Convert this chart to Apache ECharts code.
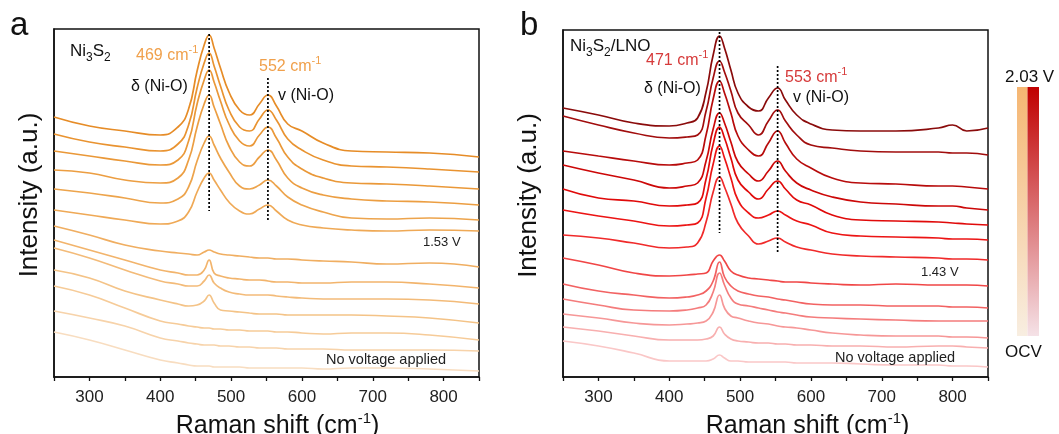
<!DOCTYPE html>
<html><head><meta charset="utf-8">
<script src="https://cdn.jsdelivr.net/npm/echarts@6/dist/echarts.min.js"></script>
<style>html,body{margin:0;padding:0;background:#fff}#c{width:1059px;height:434px}</style>
</head><body><div id="c"></div>
<script>
// ---------- data ----------
// Raman shift grid (cm-1) for panel a (Ni3S2) and panel b (Ni3S2/LNO)
const xA = [250, 300, 350, 400, 425, 440, 452, 462, 469, 476, 485, 497, 512, 526, 540, 552, 564, 580, 600, 630, 670, 720, 780, 850];
const xB = [250, 300, 350, 400, 425, 440, 452, 462, 471, 478, 487, 497, 512, 526, 540, 553, 564, 580, 600, 630, 670, 720, 780, 800, 820, 850];

// panel a spectra, top (highest potential) to bottom (OCV), stacked intensity (a.u.)
const a01 = [260, 251, 246, 242, 250, 268, 306, 332, 342, 329, 309, 285, 267, 262, 273, 282, 271, 253, 246, 234, 226, 225, 224, 220];
const a02 = [243, 235, 230, 226, 233, 252, 289, 314, 324, 311, 291, 267, 250, 246, 258, 267, 257, 238, 227, 217, 211, 210, 208, 205];
const a03 = [226, 221, 216, 212, 217, 236, 273, 297, 307, 295, 276, 253, 236, 231, 242, 250, 239, 220, 208, 199, 194, 193, 191, 188];
const a04 = [207, 204, 197, 194, 199, 217, 250, 273, 282, 270, 253, 231, 215, 211, 220, 227, 217, 199, 189, 182, 178, 176, 175, 172];
const a05 = [188, 184, 179, 174, 178, 190, 216, 234, 241, 232, 219, 205, 191, 188, 192, 197, 191, 180, 172, 165, 159, 158, 159, 157];
const a06 = [167, 162, 157, 153, 156, 165, 185, 199, 204, 197, 187, 175, 166, 163, 168, 172, 166, 157, 152, 149, 147, 146, 147, 146];
const a07 = [151, 142, 132, 126, 124, 123, 122, 125, 127, 125, 123, 122, 121, 120, 119, 119, 118, 118, 117, 116, 115, 113, 114, 110];
const a08 = [137, 127, 117, 107, 104, 102, 102, 107, 117, 104, 101, 99, 98, 97, 97, 96, 95, 95, 94, 94, 95, 95, 93, 89];
const a09 = [129, 119, 107, 96, 93, 91, 91, 96, 102, 94, 89, 85, 83, 82, 82, 82, 81, 80, 79, 78, 78, 78, 77, 73];
const a10 = [107, 99, 86, 77, 73, 71, 72, 76, 82, 74, 67, 66, 65, 64, 63, 63, 63, 62, 62, 62, 62, 61, 59, 54];
const a11 = [91, 82, 69, 56, 53, 51, 50, 49, 49, 48, 48, 47, 47, 46, 46, 46, 45, 45, 44, 43, 44, 44, 42, 37];
const a12 = [66, 59, 51, 39, 36, 34, 33, 32, 32, 32, 31, 31, 30, 30, 29, 29, 29, 28, 28, 28, 27, 27, 27, 26];
const a13 = [45, 37, 27, 17, 14, 12, 11, 11, 11, 10, 10, 10, 10, 9, 9, 9, 9, 9, 9, 8, 9, 9, 8, 6];

// panel b spectra, top to bottom
const b01 = [269, 262, 254, 251, 254, 259, 285, 322, 341, 329, 307, 284, 270, 266, 279, 289, 277, 262, 253, 247, 246, 246, 249, 252, 246, 249];
const b02 = [261, 252, 244, 239, 240, 242, 266, 299, 316, 305, 286, 264, 252, 242, 256, 267, 256, 242, 232, 229, 226, 225, 225, 224, 224, 222];
const b03 = [226, 221, 216, 212, 214, 217, 242, 278, 296, 284, 264, 241, 227, 221, 234, 246, 234, 218, 209, 199, 194, 193, 191, 191, 190, 188];
const b04 = [212, 204, 197, 189, 191, 194, 216, 248, 264, 254, 235, 215, 203, 196, 206, 216, 206, 194, 187, 180, 175, 173, 171, 171, 169, 167];
const b05 = [188, 179, 176, 171, 172, 174, 198, 233, 250, 239, 219, 197, 185, 178, 188, 196, 188, 177, 172, 162, 157, 156, 155, 154, 153, 152];
const b06 = [167, 161, 156, 151, 152, 154, 179, 213, 231, 219, 199, 177, 164, 159, 162, 166, 162, 156, 152, 144, 141, 140, 139, 138, 138, 137];
const b07 = [142, 139, 134, 129, 130, 134, 155, 185, 200, 190, 173, 154, 141, 133, 136, 139, 135, 130, 127, 123, 121, 120, 119, 118, 118, 117];
const b08 = [119, 112, 104, 101, 102, 103, 104, 116, 122, 116, 106, 102, 99, 98, 97, 96, 95, 95, 94, 93, 92, 93, 92, 92, 92, 91];
const b09 = [93, 86, 82, 79, 80, 82, 86, 96, 115, 100, 91, 86, 83, 81, 80, 78, 77, 75, 73, 72, 72, 71, 71, 70, 70, 69];
const b10 = [78, 72, 67, 66, 67, 69, 72, 85, 104, 92, 79, 73, 71, 69, 67, 65, 64, 62, 60, 59, 58, 57, 56, 56, 56, 56];
const b11 = [63, 59, 54, 52, 53, 54, 56, 65, 82, 69, 61, 59, 56, 54, 53, 51, 50, 49, 47, 44, 42, 41, 41, 40, 40, 39];
const b12 = [50, 46, 41, 37, 37, 37, 38, 41, 50, 43, 38, 36, 35, 34, 34, 33, 33, 32, 32, 31, 31, 30, 31, 31, 30, 29];
const b13 = [36, 31, 24, 16, 16, 16, 16, 18, 22, 19, 16, 16, 15, 15, 15, 15, 15, 14, 14, 14, 13, 12, 12, 11, 11, 10];

// peak marker lines: [position, top, bottom]
const peakLinesA = [[469, 343, 166], [552, 299, 155]];
const peakLinesB = [[471, 345, 144], [553, 311, 125]];

const tickValues = [300, 400, 500, 600, 700, 800];

// ---------- styling ----------
const FONT = 'Liberation Sans, Arial, sans-serif';
const colorsA = ['#E68C27', '#E99330', '#EA9838', '#EC9E42', '#EDA44C', '#EFA956', '#F0AE61', '#F2B46C', '#F3BB79', '#F4C387', '#F6CB98', '#F7D3AA', '#F8DDC0'];
const colorsB = ['#8A0B0B', '#A10D0D', '#B70B0B', '#CC0808', '#E00A0A', '#EC1414', '#F02A2A', '#F04646', '#F26262', '#F47C7C', '#F69797', '#F8AFAF', '#FAC7C7'];
const curvesA = [a01, a02, a03, a04, a05, a06, a07, a08, a09, a10, a11, a12, a13];
const curvesB = [b01, b02, b03, b04, b05, b06, b07, b08, b09, b10, b11, b12, b13];

const chart = echarts.init(document.getElementById('c'), null, {renderer: 'canvas'});

function xAxisDef(idx, padLeft) {
  return {
    gridIndex: idx, type: 'value', min: 250, max: 850, interval: 50,
    axisLine: {lineStyle: {color: '#111', width: 1.5}},
    axisTick: {length: 4, lineStyle: {color: '#111', width: 1.3}},
    axisLabel: {formatter: v => tickValues.indexOf(v) >= 0 ? String(v) : '', fontSize: 17, color: '#222', margin: 12, fontFamily: FONT},
    splitLine: {show: false},
    name: 'Raman shift (cm{sup|-1})', nameLocation: 'middle', nameGap: 23,
    nameTextStyle: {fontSize: 25, lineHeight: 30, color: '#111', fontFamily: FONT, padding: [0, 0, 0, padLeft],
      rich: {sup: {fontSize: 15, lineHeight: 15, fontFamily: FONT, color: '#111', verticalAlign: 'top'}}}
  };
}
function yAxisDef(idx, max, gap) {
  return {
    gridIndex: idx, type: 'value', min: 0, max: max,
    axisLine: {show: true, lineStyle: {color: '#111', width: 1.5}},
    axisTick: {show: false}, axisLabel: {show: false}, splitLine: {show: false},
    name: 'Intensity (a.u.)', nameLocation: 'middle', nameGap: gap, nameRotate: 90,
    nameTextStyle: {fontSize: 26, color: '#111', fontFamily: FONT, padding: [0, 0, 0, 16]}
  };
}

const series = [];
curvesA.forEach((c, k) => series.push({
  type: 'line', xAxisIndex: 0, yAxisIndex: 0, data: xA.map((x, i) => [x, c[i]]),
  smooth: 0.5, showSymbol: false, silent: true,
  lineStyle: {width: 1.7, color: colorsA[k]}, z: 2
}));
curvesB.forEach((c, k) => series.push({
  type: 'line', xAxisIndex: 1, yAxisIndex: 1, data: xB.map((x, i) => [x, c[i]]),
  smooth: 0.5, showSymbol: false, silent: true,
  lineStyle: {width: 1.7, color: colorsB[k]}, z: 2
}));
peakLinesA.forEach(p => series.push({
  type: 'line', xAxisIndex: 0, yAxisIndex: 0, data: [[p[0], p[1]], [p[0], p[2]]],
  showSymbol: false, silent: true, lineStyle: {type: [2, 2], color: '#000', width: 1.7}, z: 4
}));
peakLinesB.forEach(p => series.push({
  type: 'line', xAxisIndex: 1, yAxisIndex: 1, data: [[p[0], p[1]], [p[0], p[2]]],
  showSymbol: false, silent: true, lineStyle: {type: [2, 2], color: '#000', width: 1.7}, z: 4
}));

const sub = {fontSize: 12, lineHeight: 12, fontFamily: FONT, fill: '#111', verticalAlign: 'bottom'};
const sup = c => ({fontSize: 11, lineHeight: 11, fontFamily: FONT, fill: c, verticalAlign: 'top'});
function txt(x, y, text, size, color, rich) {
  const st = {text: text, x: x, y: y, fill: color, font: size + 'px ' + FONT, fontSize: size, fontFamily: FONT, textVerticalAlign: 'middle', textAlign: 'left'};
  if (rich) { st.rich = rich; st.lineHeight = size + 8; }
  return {type: 'text', style: st, z: 10};
}
const orangeT = '#F0A04B', redT = '#D63A3A';

const graphic = [
  {type: 'text', style: {text: 'a', x: 10, y: 26, fill: '#111', font: '33px ' + FONT, textVerticalAlign: 'middle'}},
  {type: 'text', style: {text: 'b', x: 520, y: 26, fill: '#111', font: '33px ' + FONT, textVerticalAlign: 'middle'}},
  txt(70, 51, 'Ni{s|3}S{s|2}', 17, '#111', {s: sub}),
  txt(136, 56, '469 cm{p|-1}', 16, orangeT, {p: sup(orangeT)}),
  txt(131, 87, 'δ (Ni-O)', 16, '#111'),
  txt(259, 67, '552 cm{p|-1}', 16, orangeT, {p: sup(orangeT)}),
  txt(278, 96, 'v (Ni-O)', 16, '#111'),
  txt(423, 242, '1.53 V', 13, '#222'),
  txt(326, 360, 'No voltage applied', 14.5, '#222'),
  txt(570, 46, 'Ni{s|3}S{s|2}/LNO', 17, '#111', {s: sub}),
  txt(646, 61, '471 cm{p|-1}', 16, redT, {p: sup(redT)}),
  txt(644, 89, 'δ (Ni-O)', 16, '#111'),
  txt(785, 78, '553 cm{p|-1}', 16, redT, {p: sup(redT)}),
  txt(793, 98, 'v (Ni-O)', 16, '#111'),
  txt(921, 272, '1.43 V', 13, '#222'),
  txt(835, 358, 'No voltage applied', 14.5, '#222'),
  txt(1005, 77, '2.03 V', 17, '#111'),
  txt(1005, 352, 'OCV', 17, '#111'),
  {type: 'rect', shape: {x: 1017, y: 87, width: 10.5, height: 249},
   style: {fill: new echarts.graphic.LinearGradient(0, 0, 0, 1, [{offset: 0, color: '#F5B672'}, {offset: 1, color: '#F8EEE1'}])}},
  {type: 'rect', shape: {x: 1027.5, y: 87, width: 11.5, height: 249},
   style: {fill: new echarts.graphic.LinearGradient(0, 0, 0, 1, [{offset: 0, color: '#C00000'}, {offset: 1, color: '#F5E2E7'}])}}
];

chart.setOption({
  animation: false,
  backgroundColor: '#fff',
  grid: [
    {left: 54, top: 29, width: 425, height: 348, show: true, borderColor: '#111', borderWidth: 1.5, backgroundColor: 'transparent', containLabel: false, outerBoundsMode: 'none'},
    {left: 563, top: 30, width: 425, height: 347, show: true, borderColor: '#111', borderWidth: 1.5, backgroundColor: 'transparent', containLabel: false, outerBoundsMode: 'none'}
  ],
  xAxis: [xAxisDef(0, 22), xAxisDef(1, 64)],
  yAxis: [yAxisDef(0, 348, 11), yAxisDef(1, 347, 21)],
  series: series,
  graphic: graphic
});
</script></body></html>
